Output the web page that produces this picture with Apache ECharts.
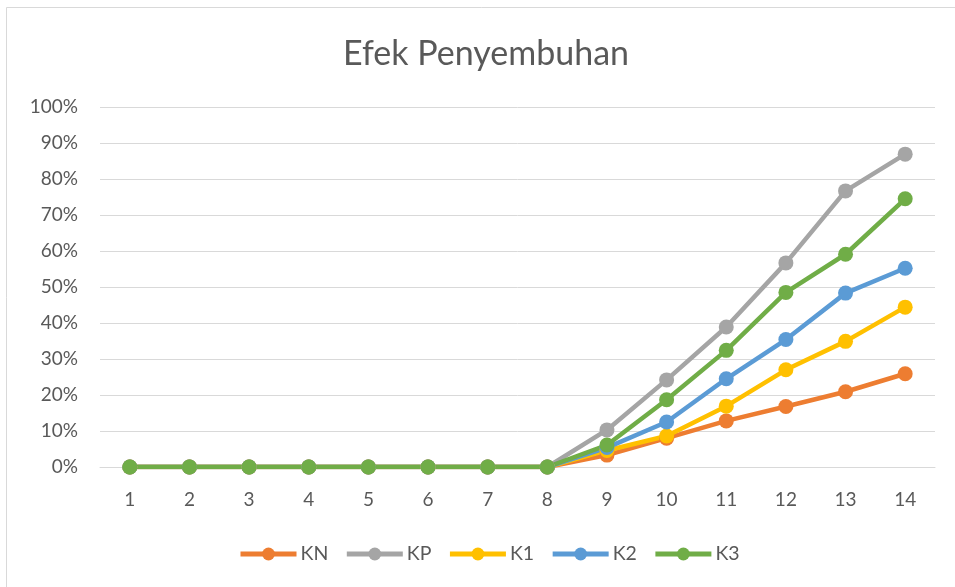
<!DOCTYPE html>
<html>
<head>
<meta charset="utf-8">
<script src="https://cdn.jsdelivr.net/npm/echarts@6/dist/echarts.min.js"></script>
<style>
  html, body { margin: 0; padding: 0; background: #ffffff; }
  #chart { width: 955px; height: 587px; }
</style>
</head>
<body>
<div id="chart"></div>
<script>
// Days of observation
const days = ['1', '2', '3', '4', '5', '6', '7', '8', '9', '10', '11', '12', '13', '14'];

// Healing effect (%) per group
const kn = [0, 0, 0, 0, 0, 0, 0, 0, 3.3, 8.0, 12.8, 16.8, 20.9, 25.9];
const kp = [0, 0, 0, 0, 0, 0, 0, 0, 10.3, 24.2, 38.9, 56.7, 76.7, 86.9];
const k1 = [0, 0, 0, 0, 0, 0, 0, 0, 4.6, 8.6, 16.9, 27.0, 34.9, 44.4];
const k2 = [0, 0, 0, 0, 0, 0, 0, 0, 5.4, 12.5, 24.5, 35.4, 48.3, 55.2];
const k3 = [0, 0, 0, 0, 0, 0, 0, 0, 6.1, 18.7, 32.4, 48.5, 59.1, 74.5];

const groups = [
  { name: 'KN', data: kn, color: '#ED7D31' },
  { name: 'KP', data: kp, color: '#A5A5A5' },
  { name: 'K1', data: k1, color: '#FFC000' },
  { name: 'K2', data: k2, color: '#5B9BD5' },
  { name: 'K3', data: k3, color: '#70AD47' }
];

const textColor = '#595959';
const fontFamily = 'Lato, "Open Sans", sans-serif';

const chart = echarts.init(document.getElementById('chart'), null, { renderer: 'canvas' });

chart.setOption({
  backgroundColor: '#ffffff',
  animation: false,
  graphic: [{
    type: 'rect',
    shape: { x: 6.5, y: 7.5, width: 1200, height: 1200 },
    style: { fill: 'none', stroke: '#d9d9d9', lineWidth: 1 },
    silent: true,
    z: -1
  }],
  title: {
    text: 'Efek Penyembuhan',
    left: 338,
    top: 32,
    textStyle: { color: textColor, fontSize: 34, fontWeight: 'normal', fontFamily: fontFamily }
  },
  legend: {
    bottom: 18,
    left: 233,
    itemWidth: 56,
    itemHeight: 16,
    itemGap: 16,
    textStyle: { color: textColor, fontSize: 19.5, fontFamily: fontFamily, padding: [0, 0, 0, -1] },
    lineStyle: { width: 5 },
    data: groups.map(g => g.name)
  },
  grid: { left: 100, right: 20, top: 107, bottom: 120, containLabel: false },
  xAxis: {
    type: 'category',
    data: days,
    boundaryGap: true,
    axisLine: { show: true, lineStyle: { color: '#d9d9d9', width: 1 } },
    axisTick: { show: false },
    axisLabel: { color: textColor, fontSize: 19, fontFamily: fontFamily, margin: 23 }
  },
  yAxis: {
    type: 'value',
    min: 0,
    max: 100,
    interval: 10,
    axisLine: { show: false },
    axisTick: { show: false },
    axisLabel: { color: textColor, fontSize: 19, fontFamily: fontFamily, margin: 22, formatter: '{value}%' },
    splitLine: { lineStyle: { color: '#d9d9d9', width: 1 } }
  },
  series: groups.map(g => ({
    name: g.name,
    type: 'line',
    data: g.data,
    symbol: 'circle',
    symbolSize: 15,
    showSymbol: true,
    lineStyle: { color: g.color, width: 4.5 },
    itemStyle: { color: g.color },
    emphasis: { disabled: true }
  }))
});
</script>
</body>
</html>
